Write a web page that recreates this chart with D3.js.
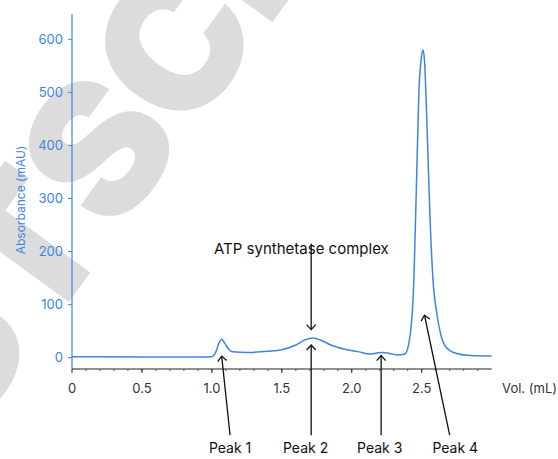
<!DOCTYPE html>
<meta charset="utf-8">
<style>
body { margin: 0; background: #fff; }
text { font-family: Inter, "Noto Sans", sans-serif; }
.ytick text { fill: #3a86e0; font-size: 13px; }
.xtick text { fill: #333; font-size: 13px; }
</style>
<body>
<svg id="chart" width="558" height="459"></svg>
<script src="https://cdnjs.cloudflare.com/ajax/libs/d3/7.8.5/d3.min.js"></script>
<script>
// chromatogram trace (mL, mAU)
var vol = [0, 0.5, 0.9, 1.0, 1.03, 1.05, 1.07, 1.09, 1.12, 1.15, 1.25, 1.4, 1.5, 1.6, 1.67, 1.72, 1.78, 1.85, 1.95, 2.05, 2.13, 2.18, 2.22, 2.27, 2.33, 2.38, 2.41, 2.44, 2.46, 2.48, 2.50, 2.51, 2.52, 2.54, 2.56, 2.58, 2.61, 2.64, 2.68, 2.75, 2.85, 3.0];
var absb = [2, 1.5, 1.5, 2, 12, 27, 35, 28, 16, 11, 10, 12, 15, 24, 34, 37, 33, 24, 16, 11, 7, 9, 10, 8, 5, 7, 30, 120, 300, 500, 570, 580, 560, 420, 260, 150, 80, 40, 18, 8, 4, 3];
var xTicks = [0, 0.5, 1.0, 1.5, 2.0, 2.5];
var xTickLabels = ["0", "0.5", "1.0", "1.5", "2.0", "2.5"];
var yTicks = [0, 100, 200, 300, 400, 500, 600];
var peakNames = ["Peak 1", "Peak 2", "Peak 3", "Peak 4"];
var peakTip = [[1.07, 3], [1.71, 24], [2.21, 4], [2.52, 80]];
var peakTail = [[1.13, -146], [1.71, -146], [2.21, -146], [2.70, -146]];
var peakLabelX = [1.13, 1.67, 2.20, 2.74];

var svg = d3.select("#chart");
var x = d3.scaleLinear().domain([0, 2.5]).range([72, 421.7]);
var y = d3.scaleLinear().domain([0, 600]).range([357.7, 39.3]);
var blue = "#3a86e0";

// watermark
svg.append("text")
  .attr("transform", "translate(-35,445) rotate(-54)")
  .attr("font-size", 185).attr("font-weight", 900)
  .attr("letter-spacing", -2)
  .attr("fill", "#dcdcdc")
  .style("font-family", "Inter, sans-serif")
  .text("UTSCH");

// y axis
svg.append("line").attr("x1", 72).attr("x2", 72).attr("y1", 14).attr("y2", 369)
  .attr("stroke", blue).attr("stroke-width", 1.2);
var yg = svg.selectAll(".ytick").data(yTicks).enter().append("g").attr("class", "ytick")
  .attr("transform", function(d) { return "translate(72," + y(d) + ")"; });
yg.append("line").attr("x1", -4).attr("x2", 0).attr("stroke", blue);
yg.append("text").attr("x", -9).attr("dy", "0.35em").attr("text-anchor", "end").text(function(d) { return d; });
svg.append("text").attr("transform", "translate(25,200) rotate(-90)")
  .attr("text-anchor", "middle").attr("font-size", 12).attr("fill", blue)
  .text("Absorbance (mAU)");

// x axis
var axY = 369;
svg.append("line").attr("x1", 72).attr("x2", x(3.0)).attr("y1", axY).attr("y2", axY)
  .attr("stroke", "#222").attr("stroke-width", 1.2);
svg.selectAll(".minor").data(d3.range(1, 30)).enter().append("line")
  .attr("x1", function(d) { return x(d / 10); }).attr("x2", function(d) { return x(d / 10); })
  .attr("y1", axY).attr("y2", axY + 2)
  .attr("stroke", "#555");
var xg = svg.selectAll(".xtick").data(xTicks).enter().append("g").attr("class", "xtick")
  .attr("transform", function(d) { return "translate(" + x(d) + "," + axY + ")"; });
xg.append("line").attr("y2", 4).attr("stroke", "#222");
xg.append("text").attr("y", 19).attr("dy", "0.35em").attr("text-anchor", "middle")
  .text(function(d, i) { return xTickLabels[i]; });
svg.append("text").attr("x", 557).attr("y", axY + 19).attr("dy", "0.35em")
  .attr("text-anchor", "end").attr("font-size", 13).attr("fill", "#333").text("Vol. (mL)");

// trace
var pts = vol.map(function(v, i) { return [v, absb[i]]; });
svg.append("path").datum(pts)
  .attr("d", d3.line().x(function(d) { return x(d[0]); }).y(function(d) { return y(d[1]); }).curve(d3.curveMonotoneX))
  .attr("fill", "none").attr("stroke", blue).attr("stroke-width", 1.5);

// arrows
svg.append("defs").append("marker").attr("id", "ah")
  .attr("viewBox", "-6 -6 12 12").attr("refX", 0).attr("refY", 0)
  .attr("markerWidth", 12).attr("markerHeight", 12).attr("markerUnits", "userSpaceOnUse")
  .attr("orient", "auto")
  .append("path").attr("d", "M-5,-4.5L0,0L-5,4.5").attr("fill", "none").attr("stroke", "#111").attr("stroke-width", 1.3);

function arrow(x1, y1, x2, y2) {
  svg.append("line").attr("x1", x1).attr("y1", y1).attr("x2", x2).attr("y2", y2)
    .attr("stroke", "#111").attr("stroke-width", 1.3).attr("marker-end", "url(#ah)");
}
peakTip.forEach(function(p, i) {
  arrow(x(peakTail[i][0]), y(peakTail[i][1]), x(p[0]), y(p[1]));
});
svg.selectAll(".plab").data(peakNames).enter().append("text")
  .attr("x", function(d, i) { return x(peakLabelX[i]); }).attr("y", 453)
  .attr("text-anchor", "middle").attr("font-size", 14).attr("fill", "#111")
  .text(function(d) { return d; });

arrow(x(1.71), y(215), x(1.71), y(53));
svg.append("text").attr("x", x(1.64)).attr("y", 254).attr("text-anchor", "middle")
  .attr("font-size", 15).attr("fill", "#111").text("ATP synthetase complex");
</script>
</body>
